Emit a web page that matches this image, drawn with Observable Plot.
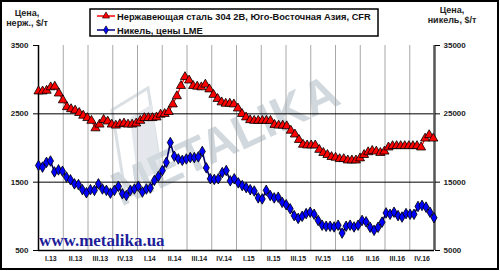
<!DOCTYPE html>
<html>
<head>
<meta charset="utf-8">
<script src="https://cdn.jsdelivr.net/npm/d3@7"></script>
<script src="https://cdn.jsdelivr.net/npm/@observablehq/plot@0.6"></script>
<style>
  html, body { margin: 0; padding: 0; background: #fff; }
  #chart { width: 500px; height: 271px; }
</style>
</head>
<body>
<div id="chart"></div>
<script>
const quarterLabels = ["I.13","II.13","III.13","IV.13","I.14","II.14","III.14","IV.14",
  "I.15","II.15","III.15","IV.15","I.16","II.16","III.16","IV.16"];

// Нержавеющая сталь 304 2В, Юго-Восточная Азия, CFR, $/т
const steel = [
  2830, 2830, 2840, 2890, 2900, 2800, 2700, 2600, 2570, 2550,
  2515, 2475, 2440, 2400, 2290, 2345, 2413, 2390, 2345, 2330,
  2350, 2360, 2345, 2345, 2360, 2400, 2440, 2440, 2440, 2450,
  2490, 2500, 2530, 2640, 2760, 2910, 3040, 2990, 2910, 2900,
  2890, 2930, 2860, 2780, 2720, 2670, 2650, 2650, 2640, 2580,
  2500, 2450, 2410, 2400, 2400, 2400, 2400, 2400, 2340, 2330,
  2330, 2320, 2255, 2200, 2120, 2050, 2040, 2040, 2040, 1975,
  1930, 1900, 1870, 1860, 1840, 1840, 1820, 1820, 1820, 1850,
  1900, 1940, 1960, 1950, 1930, 1950, 2010, 2030, 2030, 2030,
  2030, 2030, 2030, 2030, 2010, 2140, 2190, 2140
];

// Никель, цены LME, $/т
const nickel = [
  17450, 17200, 17900, 18100, 16500, 16800, 16600, 15750, 15350, 14750,
  14650, 13900, 13450, 13900, 13800, 14750, 14000, 13800, 13400, 13800,
  14400, 13300, 13050, 13800, 14000, 14400, 13550, 14000, 14150, 15250,
  15850, 16700, 17900, 20800, 18800, 18400, 18200, 18400, 18600, 18600,
  18700, 19500, 17100, 15500, 15400, 15500, 16400, 16700, 15200, 15500,
  14900, 14500, 14200, 13900, 13700, 12700, 12550, 13800, 13050, 12700,
  12800, 12050, 11700, 11100, 10100, 9700, 10000, 10400, 10600, 10300,
  9400, 8700, 8550, 8550, 8450, 8700, 7550, 8550, 8700, 8450,
  8700, 9400, 9200, 8400, 7950, 8400, 9150, 10500, 10300, 10600,
  10100, 9900, 10400, 10300, 10300, 11450, 11600, 11350, 10600, 9800
];

const yTicks = [500, 1500, 2500, 3500];

const steelData = steel.map((v, i) => ({t: i * 15.95 / (steel.length - 1), v}));
const nickelData = nickel.map((v, i) => ({t: i * 15.98 / (nickel.length - 1), v: v / 10}));
const quarterCenters = quarterLabels.map((d, i) => i + 0.5);

const chart = Plot.plot({
  width: 500,
  height: 271,
  marginLeft: 38,
  marginRight: 66,
  marginTop: 45,
  marginBottom: 21,
  x: {domain: [0, 16], axis: null},
  y: {domain: [500, 3500], axis: null},
  style: {fontFamily: "'Liberation Sans', Arial, sans-serif", background: "#fff", color: "#000"},
  marks: [
    Plot.ruleX(d3.range(1, 16), {stroke: "#a8a8a8", strokeWidth: 1}),
    Plot.ruleY([1500, 2500], {stroke: "#000", strokeWidth: 1}),
    Plot.ruleX([0], {stroke: "#000", strokeWidth: 1.5}),
    Plot.ruleY([500], {stroke: "#000", strokeWidth: 1.5}),
    Plot.ruleX([16], {stroke: "#555", strokeWidth: 2.5}),
    Plot.axisY({ticks: yTicks, anchor: "left", tickSize: 5, tickPadding: 5, label: null,
      tickFormat: d => String(d), fontSize: 8, fontWeight: "bold", fill: "#222"}),
    Plot.axisY({ticks: yTicks, anchor: "right", tickSize: 5, tickPadding: 4, label: null,
      tickFormat: d => String(d * 10), fontSize: 8, fontWeight: "bold", fill: "#222"}),
    Plot.axisX(quarterCenters, {tickSize: 0, tickPadding: 6, label: null,
      tickFormat: d => quarterLabels[Math.floor(d)], fontSize: 7, fontWeight: "bold", fill: "#222"}),
    Plot.line(steelData, {x: "t", y: "v", stroke: "#ff0000", strokeWidth: 1.2}),
    Plot.dot(steelData, {x: "t", y: "v", symbol: "triangle", r: 3.4, fill: "#ff0000", stroke: "#000", strokeWidth: 0.8}),
    Plot.line(nickelData, {x: "t", y: "v", stroke: "#000066", strokeWidth: 1.6}),
    Plot.dot(nickelData, {x: "t", y: "v", symbol: "diamond", r: 3.2, fill: "#0000ff", stroke: "#000", strokeWidth: 0.8})
  ]
});

document.getElementById("chart").appendChild(chart);

const svg = d3.select(chart);
const tf = "'Liberation Sans', Arial, sans-serif";

// watermark under marks
const wm = svg.insert("g", ":first-child").attr("opacity", 0.6);
wm.append("path")
  .attr("d", "M112,110 L148,88 L162,178 L126,198 Z")
  .attr("fill", "none").attr("stroke", "#c3ccd3").attr("stroke-width", 3);
wm.append("path")
  .attr("d", "M130,118 L152,104 L160,170 L138,183 Z")
  .attr("fill", "#d3dae0");
wm.append("text")
  .attr("transform", "translate(232,155) rotate(-25)")
  .attr("text-anchor", "middle")
  .attr("font-family", tf)
  .attr("font-weight", "bold")
  .attr("font-size", 48)
  .attr("fill", "#b5c0c9")
  .text("METALIKA");

// url
svg.append("text")
  .attr("x", 39).attr("y", 246)
  .attr("text-anchor", "start")
  .attr("font-family", "'Liberation Serif', 'Times New Roman', serif")
  .attr("font-weight", "bold")
  .attr("font-size", 17)
  .attr("fill", "#1e1e9a")
  .text("www.metalika.ua");

// axis titles
function title(x, y1, y2, l1, l2) {
  const t = svg.append("text").attr("text-anchor", "middle").attr("font-family", tf)
    .attr("font-weight", "bold").attr("font-size", 9).attr("fill", "#222");
  t.append("tspan").attr("x", x).attr("y", y1).text(l1);
  t.append("tspan").attr("x", x).attr("y", y2).text(l2);
}
title(27, 16, 26, "Цена,", "нерж., $/т");
title(452, 13, 23, "Цена,", "никель, $/т");

// legend
const lg = svg.append("g").attr("text-anchor", "start");
lg.append("rect").attr("x", 90).attr("y", 9).attr("width", 288).attr("height", 27)
  .attr("fill", "#fff").attr("stroke", "#000").attr("stroke-width", 1.5);
lg.append("line").attr("x1", 97).attr("x2", 115).attr("y1", 16).attr("y2", 16)
  .attr("stroke", "#ff0000").attr("stroke-width", 1.5);
lg.append("path").attr("d", d3.symbol(d3.symbolTriangle, 22)()).attr("transform", "translate(106,16)")
  .attr("fill", "#ff0000").attr("stroke", "#000").attr("stroke-width", 0.6);
lg.append("line").attr("x1", 97).attr("x2", 115).attr("y1", 30).attr("y2", 30)
  .attr("stroke", "#000080").attr("stroke-width", 1.5);
lg.append("path").attr("d", d3.symbol(d3.symbolDiamond, 20)()).attr("transform", "translate(106,30)")
  .attr("fill", "#0000ff").attr("stroke", "#000").attr("stroke-width", 0.6);
lg.append("text").attr("x", 117).attr("y", 19.5).attr("text-anchor", "start").attr("font-family", tf)
  .attr("font-weight", "bold").attr("font-size", 9.3).attr("fill", "#111")
  .text("Нержавеющая сталь 304 2В, Юго-Восточная Азия, CFR");
lg.append("text").attr("x", 117).attr("y", 33.5).attr("text-anchor", "start").attr("font-family", tf)
  .attr("font-weight", "bold").attr("font-size", 9.3).attr("fill", "#111")
  .text("Никель, цены LME");

// outer frame
svg.append("rect").attr("x", 1).attr("y", 1).attr("width", 497).attr("height", 268)
  .attr("fill", "none").attr("stroke", "#000").attr("stroke-width", 2);
</script>
</body>
</html>
